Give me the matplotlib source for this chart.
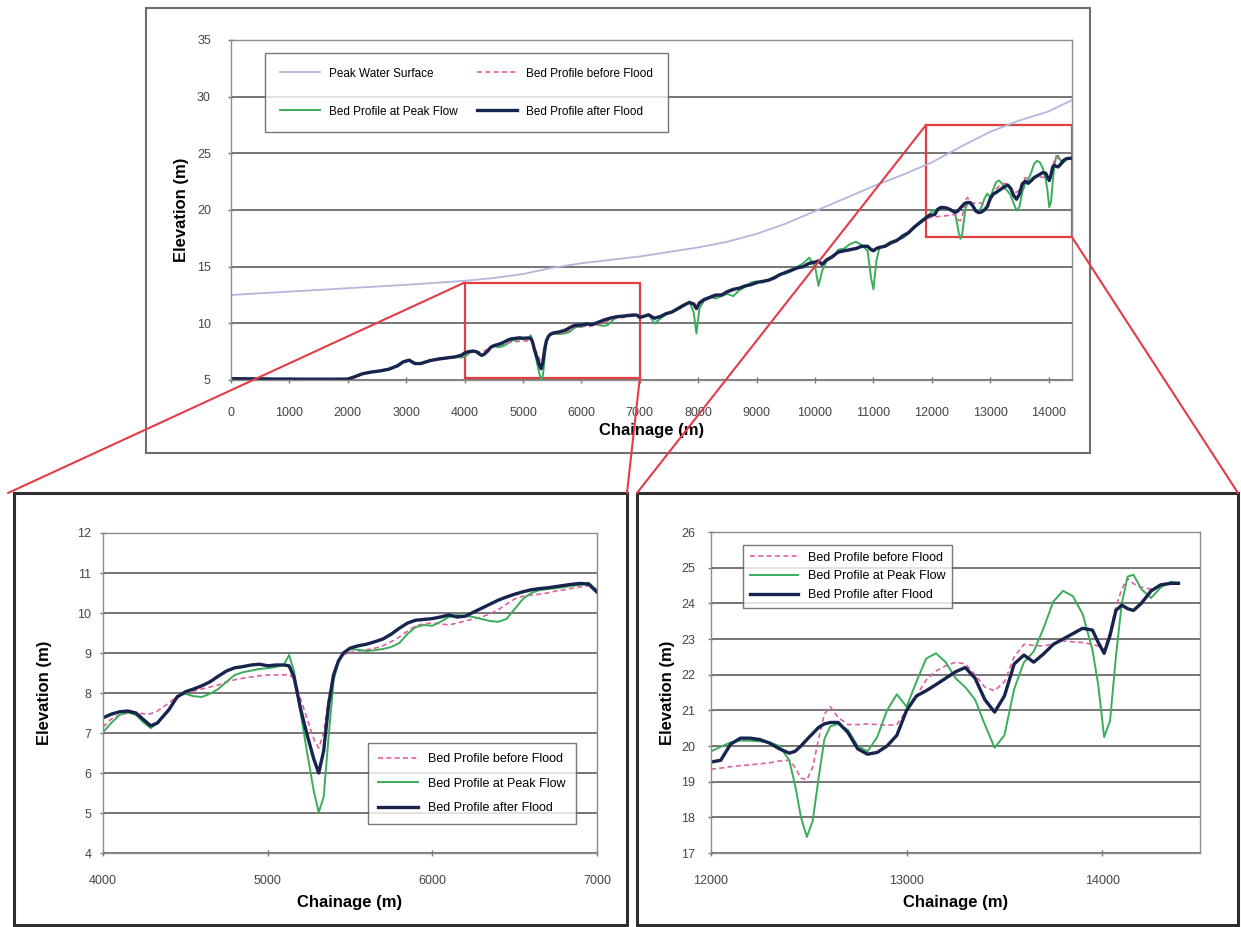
import matplotlib.pyplot as plt
from matplotlib.patches import Rectangle, ConnectionPatch
import numpy as np

plt.rcParams['font.family'] = ['Liberation Sans', 'DejaVu Sans']

# peak water surface (coarse)
ws_ch = [0, 1000, 2000, 3000, 4000, 4500, 5000, 5500, 6000, 6500, 7000, 7500, 8000,
         8500, 9000, 9500, 10000, 10500, 11000, 11500, 12000, 12500, 13000, 13500,
         14000, 14400]
ws_elev = [12.5, 12.8, 13.1, 13.4, 13.75, 14.0, 14.35, 14.9, 15.3, 15.6, 15.9, 16.3, 16.7,
           17.2, 17.9, 18.8, 19.9, 21.0, 22.1, 23.1, 24.2, 25.6, 26.9, 27.9,
           28.7, 29.7]

# segment A: 0 - 4000
ch_a = [0, 250, 500, 750, 1000, 1250, 1500, 1750, 2000, 2100, 2250, 2400, 2550,
        2700, 2850, 2950, 3050, 3150, 3250, 3400, 3550, 3700, 3850, 3950]
before_a = [5.10, 5.10, 5.08, 5.07, 5.07, 5.06, 5.06, 5.06, 5.07, 5.20, 5.50, 5.68,
            5.78, 5.92, 6.20, 6.55, 6.70, 6.50, 6.42, 6.65, 6.80, 6.92, 7.00, 7.12]
peak_a = [5.15, 5.12, 5.12, 5.10, 5.10, 5.09, 5.09, 5.09, 5.10, 5.30, 5.55, 5.72,
          5.82, 5.98, 6.30, 6.62, 6.78, 6.42, 6.48, 6.72, 6.88, 6.98, 7.02, 7.00]
after_a = [5.12, 5.10, 5.10, 5.08, 5.08, 5.07, 5.07, 5.07, 5.08, 5.25, 5.55, 5.70,
           5.80, 5.95, 6.25, 6.60, 6.75, 6.45, 6.45, 6.70, 6.85, 6.95, 7.05, 7.20]

# segment B: 4000 - 7000 (detail panel)
ch_b = [4000, 4050, 4100, 4150, 4200, 4250, 4290, 4330, 4400, 4450, 4500, 4550,
        4600, 4650, 4700, 4750, 4800, 4850, 4900, 4950, 5000, 5050, 5100, 5130,
        5160, 5200, 5240, 5280, 5310, 5340, 5370, 5400, 5430, 5460, 5500, 5550,
        5600, 5650, 5700, 5750, 5800, 5850, 5900, 5950, 6000, 6050, 6100, 6150,
        6200, 6250, 6300, 6350, 6400, 6450, 6500, 6550, 6600, 6650, 6700, 6750,
        6800, 6850, 6900, 6950, 7000]
before_b = [7.15, 7.35, 7.45, 7.50, 7.50, 7.48, 7.48, 7.55, 7.75, 7.92, 8.00, 8.05,
            8.10, 8.15, 8.20, 8.28, 8.33, 8.37, 8.40, 8.43, 8.45, 8.45, 8.45, 8.47,
            8.35, 7.85, 7.35, 6.85, 6.62, 7.00, 7.90, 8.50, 8.80, 8.95, 9.02, 9.05,
            9.08, 9.12, 9.18, 9.28, 9.40, 9.55, 9.68, 9.73, 9.75, 9.73, 9.70, 9.75,
            9.80, 9.85, 9.90, 9.98, 10.08, 10.22, 10.35, 10.42, 10.45, 10.47, 10.50, 10.55,
            10.58, 10.62, 10.65, 10.68, 10.60]
peak_b = [7.02, 7.25, 7.45, 7.52, 7.45, 7.25, 7.12, 7.25, 7.60, 7.92, 7.98, 7.92,
          7.90, 7.98, 8.10, 8.28, 8.45, 8.52, 8.56, 8.60, 8.62, 8.65, 8.72, 8.95,
          8.55, 7.50, 6.50, 5.55, 5.02, 5.40, 6.90, 8.30, 8.80, 9.00, 9.10, 9.08,
          9.05, 9.07, 9.10, 9.15, 9.25, 9.48, 9.65, 9.70, 9.68, 9.78, 9.90, 9.95,
          9.93, 9.90, 9.85, 9.80, 9.78, 9.85, 10.10, 10.35, 10.50, 10.57, 10.60, 10.62,
          10.65, 10.68, 10.70, 10.76, 10.56]
after_b = [7.38, 7.47, 7.53, 7.55, 7.50, 7.32, 7.18, 7.25, 7.58, 7.90, 8.03, 8.10,
           8.18, 8.28, 8.42, 8.55, 8.63, 8.66, 8.70, 8.72, 8.68, 8.70, 8.70, 8.68,
           8.40, 7.60, 6.95, 6.35, 6.00, 6.55, 7.70, 8.45, 8.80, 9.00, 9.12, 9.18,
           9.22, 9.28, 9.35, 9.47, 9.62, 9.75, 9.82, 9.84, 9.86, 9.90, 9.95, 9.90,
           9.92, 10.02, 10.12, 10.22, 10.32, 10.40, 10.47, 10.53, 10.58, 10.61, 10.63, 10.66,
           10.69, 10.72, 10.74, 10.72, 10.52]

# segment C: 7000 - 12000
ch_c = [7050, 7150, 7250, 7350, 7450, 7550, 7650, 7750, 7850, 7920, 7970, 8020,
        8100, 8200, 8300, 8400, 8500, 8600, 8700, 8800, 8900, 9000, 9100, 9200,
        9300, 9400, 9500, 9600, 9700, 9800, 9900, 10000, 10060, 10120, 10200, 10300,
        10400, 10500, 10600, 10700, 10800, 10900, 10960, 11000, 11050, 11100, 11200, 11300,
        11400, 11500, 11600, 11700, 11800, 11900, 11950]
before_c = [10.55, 10.7, 10.5, 10.6, 10.8, 10.95, 11.25, 11.55, 11.8, 11.8, 11.6, 11.8,
            12.0, 12.2, 12.4, 12.5, 12.7, 12.9, 13.1, 13.25, 13.4, 13.55, 13.7, 13.8,
            14.0, 14.25, 14.45, 14.65, 14.85, 15.0, 15.25, 15.35, 15.4, 15.3, 15.55, 15.85,
            16.2, 16.35, 16.45, 16.55, 16.7, 16.75, 16.6, 16.5, 16.6, 16.7, 16.8, 17.05,
            17.3, 17.65, 18.0, 18.45, 18.85, 19.2, 19.3]
peak_c = [10.55, 10.8, 10.0, 10.4, 10.8, 11.0, 11.2, 11.5, 11.9, 11.0, 9.1, 11.3,
          12.0, 12.3, 12.2, 12.4, 12.6, 12.4, 12.9, 13.2, 13.6, 13.7, 13.6, 13.8,
          14.1, 14.3, 14.4, 14.6, 15.0, 15.3, 15.8, 15.0, 13.3, 14.6, 15.5, 15.8,
          16.5, 16.6, 17.0, 17.2, 16.9, 16.4, 14.0, 13.0, 15.5, 16.6, 16.9, 17.2,
          17.4, 17.5, 17.9, 18.4, 19.0, 19.4, 19.6]
after_c = [10.6, 10.75, 10.45, 10.6, 10.85, 11.0, 11.3, 11.6, 11.85, 11.7, 11.3, 11.8,
           12.1, 12.3, 12.5, 12.5, 12.8, 13.0, 13.1, 13.3, 13.4, 13.6, 13.7, 13.8,
           14.0, 14.3, 14.5, 14.7, 14.9, 15.0, 15.3, 15.4, 15.5, 15.2, 15.6, 15.9,
           16.3, 16.4, 16.5, 16.6, 16.8, 16.8, 16.5, 16.4, 16.6, 16.7, 16.8, 17.1,
           17.3, 17.7, 18.0, 18.5, 18.9, 19.3, 19.5]

# segment D: 12000 - 14400 (detail panel)
ch_d = [12000, 12050, 12100, 12150, 12200, 12250, 12300, 12350, 12400, 12430, 12460,
        12490, 12520, 12550, 12580, 12610, 12650, 12700, 12750, 12800, 12850, 12900,
        12950, 13000, 13050, 13100, 13150, 13200, 13250, 13300, 13350, 13400, 13450,
        13500, 13550, 13600, 13650, 13700, 13750, 13800, 13850, 13900, 13950, 13980,
        14010, 14040, 14070, 14100, 14130, 14160, 14200, 14250, 14300, 14350, 14390]
before_d = [19.35, 19.38, 19.42, 19.45, 19.47, 19.50, 19.53, 19.58, 19.60, 19.40, 19.10,
            19.05, 19.40, 20.20, 20.90, 21.10, 20.80, 20.60, 20.60, 20.62, 20.60, 20.58,
            20.60, 21.00, 21.40, 21.85, 22.10, 22.25, 22.35, 22.30, 22.00, 21.65, 21.55,
            21.80, 22.50, 22.85, 22.82, 22.80, 22.88, 22.95, 22.92, 22.90, 22.85, 22.80,
            22.70, 23.20, 23.90, 24.40, 24.70, 24.55, 24.45, 24.40, 24.50, 24.55, 24.56]
peak_d = [19.85, 19.98, 20.10, 20.15, 20.15, 20.13, 20.10, 20.00, 19.60, 18.90, 18.00,
          17.45, 17.90, 19.10, 20.20, 20.55, 20.62, 20.45, 20.00, 19.85, 20.25, 21.00,
          21.45, 21.10, 21.80, 22.45, 22.60, 22.35, 21.90, 21.65, 21.30, 20.60, 19.95,
          20.30, 21.60, 22.35, 22.65, 23.30, 24.05, 24.35, 24.20, 23.70, 22.70, 21.70,
          20.25, 20.70, 22.50, 24.00, 24.75, 24.80, 24.40, 24.15, 24.45, 24.60, 24.58]
after_d = [19.55, 19.60, 20.05, 20.22, 20.22, 20.18, 20.08, 19.92, 19.80, 19.85, 20.00,
           20.18, 20.35, 20.52, 20.62, 20.66, 20.66, 20.38, 19.92, 19.77, 19.82, 20.00,
           20.30, 21.00, 21.40, 21.55, 21.72, 21.90, 22.08, 22.20, 21.90, 21.30, 20.95,
           21.40, 22.30, 22.55, 22.35, 22.58, 22.85, 23.00, 23.15, 23.30, 23.25, 22.90,
           22.60, 23.10, 23.80, 23.95, 23.85, 23.80, 24.00, 24.35, 24.52, 24.56, 24.56]

ch_all = ch_a + ch_b + ch_c + ch_d
before_all = before_a + before_b + before_c + before_d
peak_all = peak_a + peak_b + peak_c + peak_d
after_all = after_a + after_b + after_c + after_d

c_ws = '#b4b6dc'
c_before = '#e0609c'
c_peak = '#3aad5a'
c_after = '#16244e'
c_grid = '#6a6a6a'
c_red = '#e23c46'

W, H = 1241, 927
fig = plt.figure(figsize=(W / 100, H / 100), dpi=100)


def px_axes(x0, y0, x1, y1):
    return fig.add_axes([x0 / W, 1 - y1 / H, (x1 - x0) / W, (y1 - y0) / H])


def style(ax, xpad, ypad):
    ax.yaxis.grid(True, color=c_grid, lw=1.3)
    ax.set_axisbelow(True)
    for s in ax.spines.values():
        s.set_color('#8c8c8c')
        s.set_linewidth(1.0)
    ax.tick_params(direction='inout', length=5, width=1, color='#777777',
                   labelsize=9, labelcolor='#444444')
    ax.tick_params(axis='x', pad=xpad)
    ax.tick_params(axis='y', pad=ypad)


def add_legend(ax, handles, fs=9, **kw):
    lg = ax.legend(handles=handles, fontsize=fs, frameon=True, fancybox=False,
                   edgecolor='#555555', **kw)
    lg.get_frame().set_linewidth(1.0)
    return lg


# ---- top overview chart ----
ax = px_axes(231, 40, 1072, 380)
h_ws, = ax.plot(ws_ch, ws_elev, color=c_ws, lw=1.3, label='Peak Water Surface')
h_pk, = ax.plot(ch_all, peak_all, color=c_peak, lw=1.4, label='Bed Profile at Peak Flow')
h_bf, = ax.plot(ch_all, before_all, color=c_before, lw=1.2, ls=(0, (3, 2)), label='Bed Profile before Flood')
h_af, = ax.plot(ch_all, after_all, color=c_after, lw=2.4, label='Bed Profile after Flood')
ax.set_xlim(0, 14400)
ax.set_ylim(5, 35)
ax.set_xticks(range(0, 14001, 1000))
ax.set_yticks(range(5, 36, 5))
style(ax, 17, 12)
ax.set_xlabel('Chainage (m)', fontsize=12, fontweight='bold', labelpad=3)
ax.set_ylabel('Elevation (m)', fontsize=12, fontweight='bold', labelpad=6)
add_legend(ax, [h_ws, h_pk, h_bf, h_af], fs=8.5, ncol=2, loc='upper left',
           bbox_to_anchor=(0.034, 0.978), handlelength=3.4, labelspacing=2.2,
           columnspacing=1.6, borderpad=1.2)

# zoom boxes on the overview
ax.add_patch(Rectangle((4000, 5.2), 3000, 8.4, fill=False, ec=c_red, lw=1.6, clip_on=False))
ax.add_patch(Rectangle((11900, 17.6), 2500, 9.9, fill=False, ec=c_red, lw=1.6, clip_on=False))

# ---- bottom-left detail ----
axl = px_axes(103, 533, 597, 853)
hb, = axl.plot(ch_b, before_b, color=c_before, lw=1.2, ls=(0, (3, 2)), label='Bed Profile before Flood')
hp, = axl.plot(ch_b, peak_b, color=c_peak, lw=1.4, label='Bed Profile at Peak Flow')
ha, = axl.plot(ch_b, after_b, color=c_after, lw=2.4, label='Bed Profile after Flood')
axl.set_xlim(4000, 7000)
axl.set_ylim(4, 12)
axl.set_xticks([4000, 5000, 6000, 7000])
axl.set_yticks(range(4, 13))
style(axl, 13, 6)
axl.set_xlabel('Chainage (m)', fontsize=12, fontweight='bold', labelpad=6)
axl.set_ylabel('Elevation (m)', fontsize=12, fontweight='bold', labelpad=18)
add_legend(axl, [hb, hp, ha], loc='lower right', bbox_to_anchor=(0.97, 0.07),
           handlelength=3.2, labelspacing=1.0, borderpad=0.8)

# ---- bottom-right detail ----
axr = px_axes(711, 532, 1200, 853)
hb, = axr.plot(ch_d, before_d, color=c_before, lw=1.2, ls=(0, (3, 2)), label='Bed Profile before Flood')
hp, = axr.plot(ch_d, peak_d, color=c_peak, lw=1.4, label='Bed Profile at Peak Flow')
ha, = axr.plot(ch_d, after_d, color=c_after, lw=2.4, label='Bed Profile after Flood')
axr.set_xlim(12000, 14500)
axr.set_ylim(17, 26)
axr.set_xticks([12000, 13000, 14000])
axr.set_yticks(range(17, 27))
style(axr, 13, 9)
axr.set_xlabel('Chainage (m)', fontsize=12, fontweight='bold', labelpad=6)
axr.set_ylabel('Elevation (m)', fontsize=12, fontweight='bold', labelpad=4)
add_legend(axr, [hb, hp, ha], loc='upper left', bbox_to_anchor=(0.053, 0.98),
           handlelength=3.8, labelspacing=0.55, borderpad=0.55)


# outer frames (figure pixels -> fraction)
def frame(x0, y0, x1, y1, color, lw):
    r = Rectangle((x0 / W, 1 - y1 / H), (x1 - x0) / W, (y1 - y0) / H, fill=False,
                  ec=color, lw=lw, transform=fig.transFigure, clip_on=False)
    fig.add_artist(r)


frame(146, 8, 1090, 453, '#6e6e6e', 1.5)
frame(14, 493, 627, 925, '#2e2e2e', 2.2)
frame(637, 493, 1238, 925, '#2e2e2e', 2.2)

# connector lines from zoom boxes to detail panels
links = [((4000, 13.6), (8, 493)), ((7000, 5.2), (627, 493)),
         ((11900, 27.5), (637, 493)), ((14400, 17.6), (1238, 493))]
for (xa, ya), (xb, yb) in links:
    cp = ConnectionPatch(xyA=(xa, ya), coordsA='data', axesA=ax,
                         xyB=(xb / W, 1 - yb / H), coordsB=fig.transFigure,
                         color=c_red, lw=1.5)
    fig.add_artist(cp)

fig.savefig('out.png', dpi=100)
